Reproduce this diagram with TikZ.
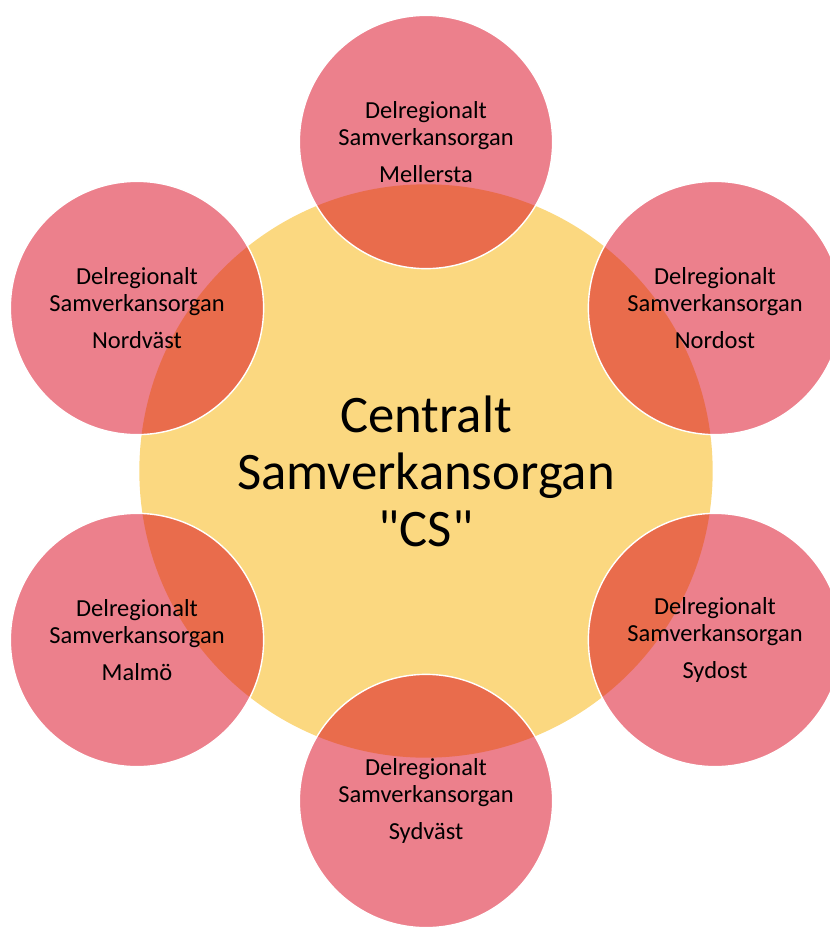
\documentclass[tikz,border=0pt]{standalone}
\usepackage{fontspec}
\setmainfont{Carlito}[Ligatures=TeXOff]
\usetikzlibrary{positioning}
\definecolor{regionpink}{RGB}{217,1,25}
\definecolor{centralyellow}{RGB}{251,216,128}

\begin{document}
\begin{tikzpicture}[x=0.025cm,y=-0.025cm]
		\tikzstyle{central}=[circle,fill=centralyellow,minimum size=14.33cm,align=center,
		font=\fontsize{37.5}{40.5}\selectfont]
		\tikzstyle{region}=[circle,draw=white,line width=1pt,fill=regionpink,fill opacity=0.5,
		text opacity=1,minimum size=6.33cm,align=center,font=\fontsize{17.4}{19.2}\selectfont]
		
		\useasboundingbox (0,0) rectangle (830,929);
		
		\node[central] (CS)        at (426,471) {Centralt\\Samverkansorgan\\"CS"};
		
		\node[region]  (Mellersta) at (426,142) {Delregionalt\\Samverkansorgan\\[7pt]Mellersta};
		\node[region]  (Nordost)   at (715,308) {Delregionalt\\Samverkansorgan\\[7pt]Nordost};
		\node[region]  (Sydost)    at (715,640) {Delregionalt\\Samverkansorgan\\[7pt]Sydost};
		\node[region]  (Sydvast)   at (426,801) {Delregionalt\\Samverkansorgan\\[7pt]Sydväst};
		\node[region]  (Malmo)     at (137,640) {Delregionalt\\Samverkansorgan\\[7pt]Malmö};
		\node[region]  (Nordvast)  at (137,308) {Delregionalt\\Samverkansorgan\\[7pt]Nordväst};
\end{tikzpicture}
\end{document}
